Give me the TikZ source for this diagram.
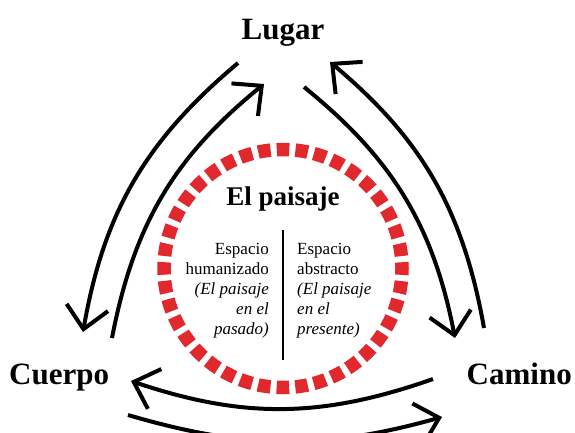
\documentclass[tikz,border=0pt]{standalone}
\usepackage{fontspec}
\setmainfont{Liberation Serif}
\usetikzlibrary{arrows.meta}
\definecolor{dashred}{RGB}{225,40,45}
\begin{document}
\begin{tikzpicture}[x=1pt,y=-1pt,
  bigword/.style={font=\fontsize{31}{37}\selectfont\bfseries, inner sep=0},
  flow/.style={line width=4pt, -{Straight Barb[length=22pt,width=42pt]}},
  block/.style={font=\fontsize{17}{20}\selectfont, inner sep=0}]
\useasboundingbox (0,0) rectangle (575,433);
\clip (0,0) rectangle (575,433);
\node[bigword, anchor=base] (lugar) at (283,40) {Lugar};
\node[bigword, anchor=base west] (cuerpo) at (9,384) {Cuerpo};
\node[bigword, anchor=base east] (camino) at (572,384) {Camino};
\coordinate (c) at (283,268.5);
\draw[dashred, line width=13.5pt, dash pattern=on 12.5pt off 6.19pt, dash phase=6.25pt] (c) circle[radius=119pt];
\node[font=\fontsize{27}{32}\selectfont\bfseries, anchor=base, inner sep=0] (paisaje) at (283,205) {El paisaje};
\coordinate (dtop) at (283,230);
\coordinate (dbot) at (283,360);
\draw[line width=2.5pt] (dtop) -- (dbot);
\node[block, align=right, anchor=base east] (leftblk) at (269,334) {Espacio\\humanizado\\\textit{(El paisaje}\\\textit{en el}\\\textit{pasado)}};
\node[block, align=left, anchor=base west] (rightblk) at (297,334) {Espacio\\abstracto\\\textit{(El paisaje}\\\textit{en el}\\\textit{presente)}};
% arrow ends
\coordinate (a1s) at (238,63);  \coordinate (a1e) at (83,332);
\coordinate (a2s) at (112,338); \coordinate (a2e) at (264,84);
\coordinate (a3s) at (304,87);  \coordinate (a3e) at (455,338);
\coordinate (a4s) at (484,328); \coordinate (a4e) at (330,62);
\coordinate (a5s) at (433,379); \coordinate (a5e) at (131,381);
\coordinate (a6s) at (128,415); \coordinate (a6e) at (442,417);
\draw[flow] (a1s) to[bend right=20] (a1e);
\draw[flow] (a2s) to[bend left=20] (a2e);
\draw[flow] (a3s) to[bend left=20] (a3e);
\draw[flow] (a4s) to[bend right=20] (a4e);
\draw[flow] (a5s) to[bend left=19] (a5e);
\draw[flow] (a6s) to[bend right=16] (a6e);
\end{tikzpicture}
\end{document}
